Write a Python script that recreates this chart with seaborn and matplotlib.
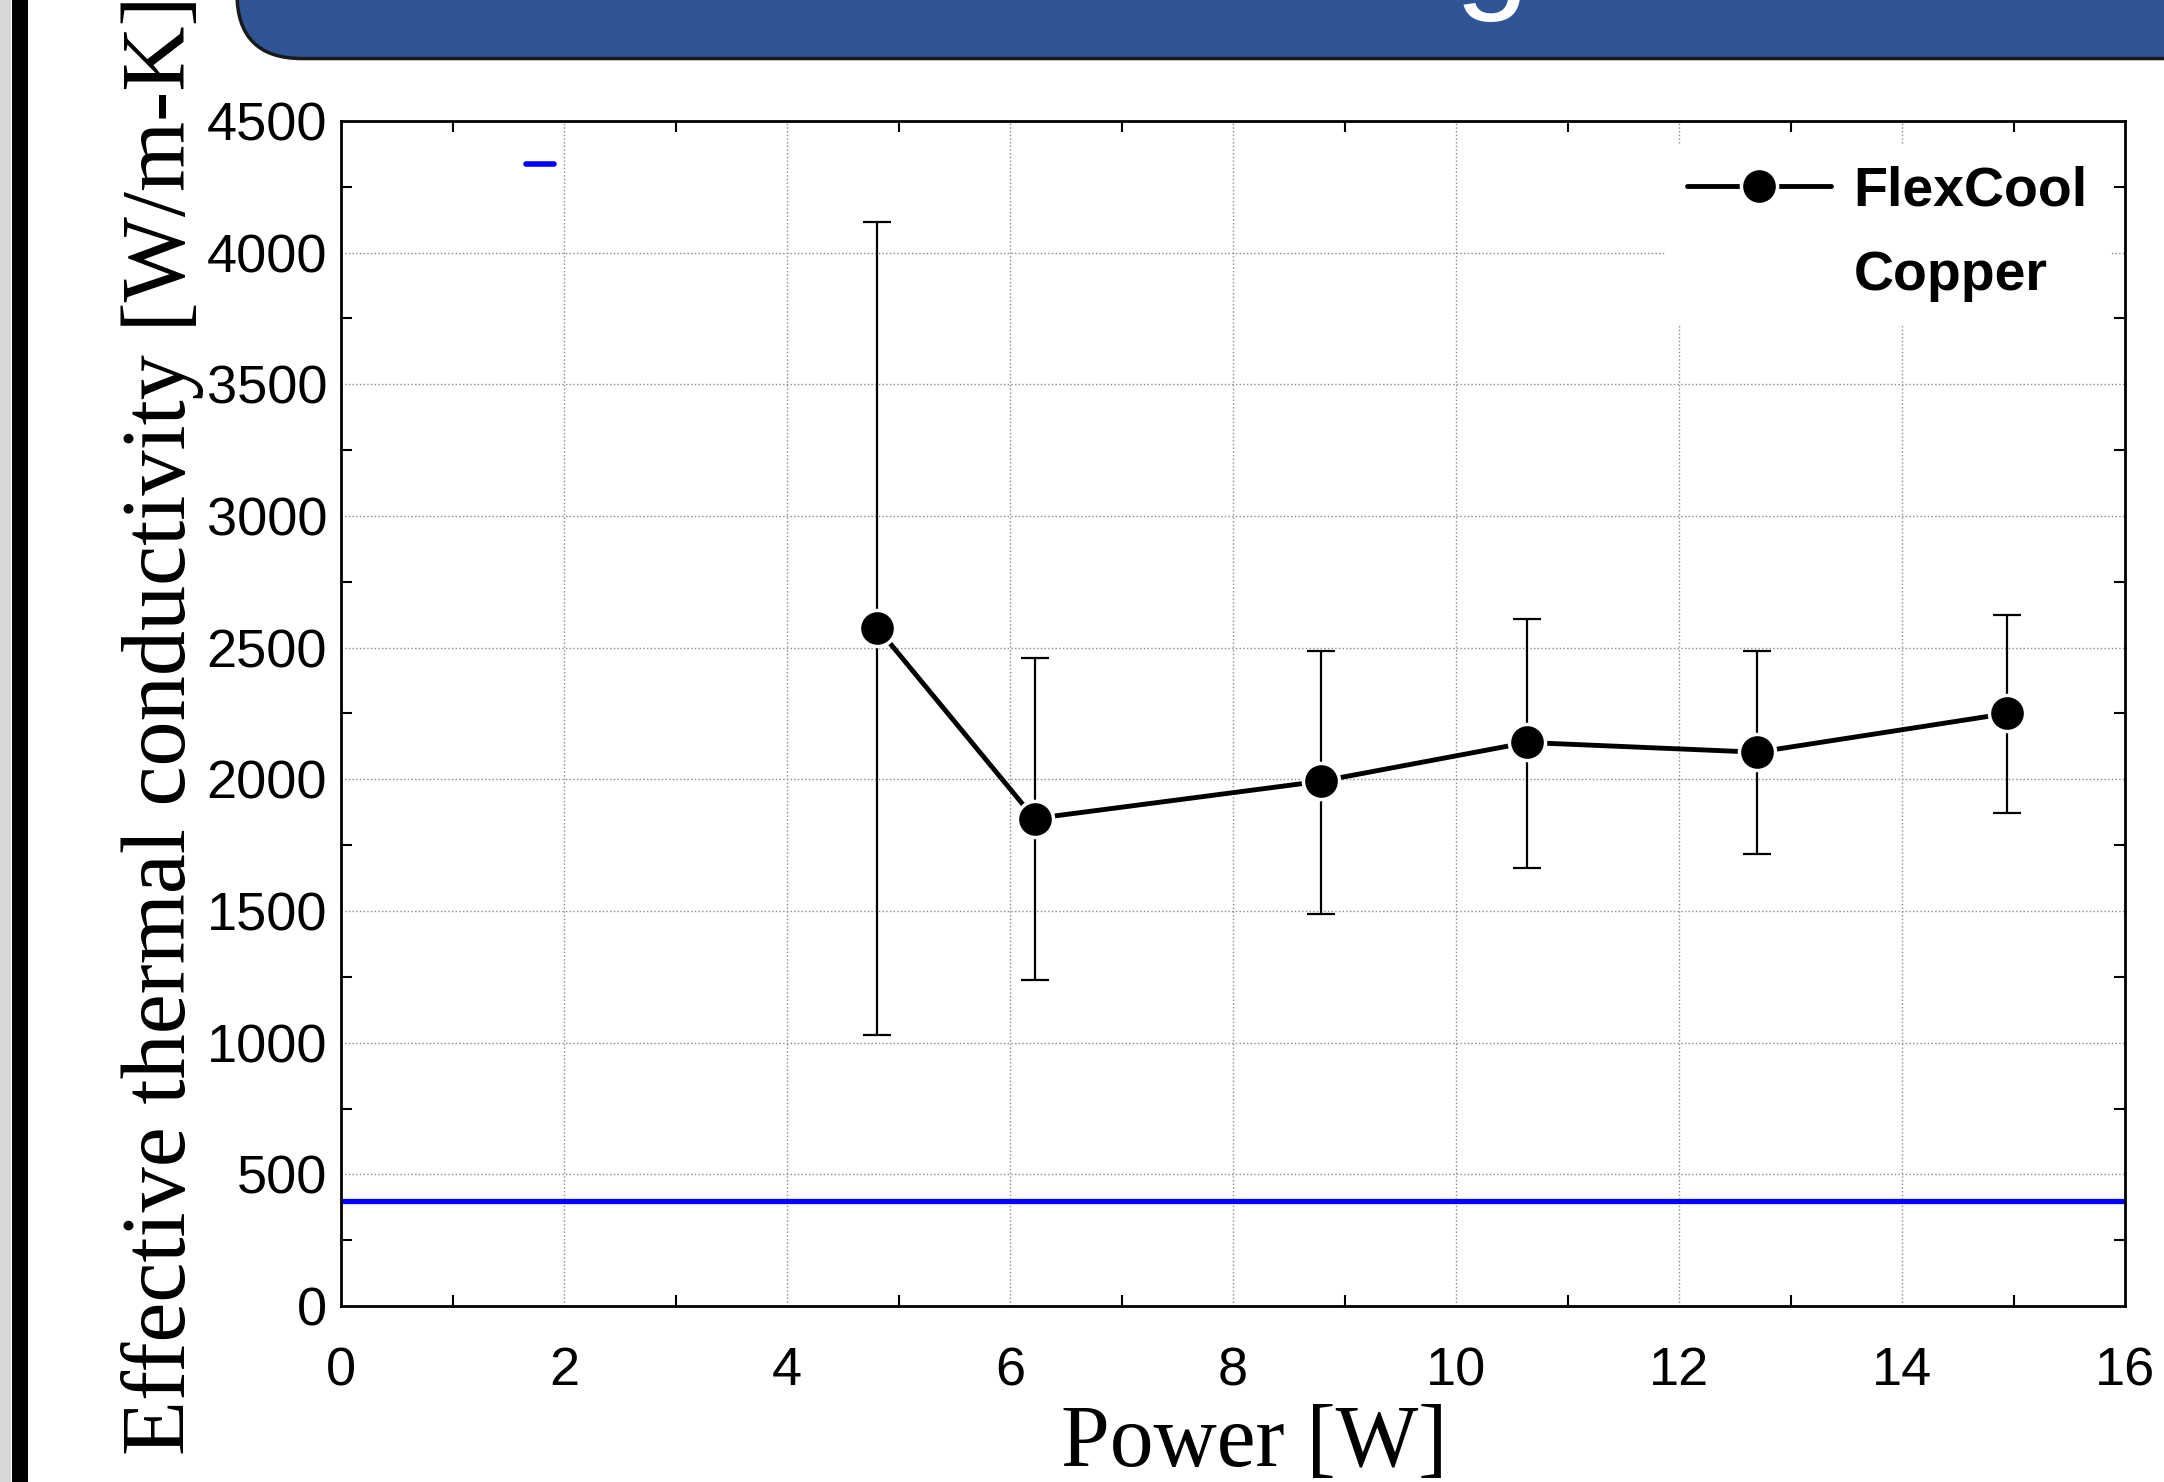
import numpy as np
import pandas as pd
import matplotlib
matplotlib.use("Agg")
import matplotlib.pyplot as plt
from matplotlib.patches import FancyBboxPatch, Rectangle
from matplotlib.lines import Line2D
from matplotlib.ticker import MultipleLocator
import seaborn as sns

# data
power = [4.81, 6.22, 8.79, 10.64, 12.70, 14.94]
k_eff = [2575, 1851, 1993, 2140, 2103, 2250]
k_hi = [4117, 2460, 2486, 2607, 2486, 2623]
k_lo = [1028, 1238, 1490, 1663, 1715, 1872]
copper_k = 400
series_names = ["FlexCool", "Copper"]

df = pd.DataFrame({"Power": power, "k": k_eff})
err_low = np.array(k_eff) - np.array(k_lo)
err_high = np.array(k_hi) - np.array(k_eff)

sns.set_style("white")
plt.rcParams["font.family"] = ["Liberation Sans", "DejaVu Sans"]
plt.rcParams["text.color"] = "black"

fig = plt.figure(figsize=(21.64, 14.82), dpi=100)

# slide decorations: grey edge + black bar on the left, blue title banner
fig.patches.append(Rectangle((0, 0), 11 / 2164, 1, transform=fig.transFigure,
                             facecolor="#d8d8d8", edgecolor="none"))
fig.patches.append(Rectangle((12 / 2164, 0), 16 / 2164, 1, transform=fig.transFigure,
                             facecolor="black", edgecolor="none"))
fig.patches.append(FancyBboxPatch((237 / 2164, 0.9605), 1.2, 0.2,
                                  boxstyle="round,pad=0,rounding_size=0.03",
                                  transform=fig.transFigure, facecolor="#2f5597",
                                  edgecolor="#1a1a1a", linewidth=2.5, mutation_aspect=1.46))
# bottom of the (cut off) slide title
fig.text(0.672, 1.004, "g", color="white", fontsize=96, va="baseline", ha="left")

ax = fig.add_axes([341 / 2164, 1 - 1306 / 1482, (2125 - 341) / 2164, (1306 - 121) / 1482])

# copper reference line
ax.axhline(copper_k, color="#0000ff", linewidth=3.8, zorder=2)

# FlexCool error bars and line
ax.errorbar(power, k_eff, yerr=[err_low, err_high], fmt="none", ecolor="black",
            elinewidth=1.6, capsize=10, capthick=1.6, zorder=3)
sns.lineplot(data=df, x="Power", y="k", ax=ax, color="black", linewidth=3.5,
             marker="o", markersize=26, markeredgecolor="white", markeredgewidth=2.5,
             zorder=4, legend=False)

ax.set_xlim(0, 16)
ax.set_ylim(0, 4500)
ax.xaxis.set_major_locator(MultipleLocator(2))
ax.xaxis.set_minor_locator(MultipleLocator(1))
ax.yaxis.set_major_locator(MultipleLocator(500))
ax.yaxis.set_minor_locator(MultipleLocator(250))

ax.grid(True, which="major", linestyle=":", color="#8a8a8a", linewidth=1.0)
ax.set_axisbelow(True)
for s in ax.spines.values():
    s.set_visible(True)
    s.set_color("black")
    s.set_linewidth(2.0)

ax.tick_params(which="major", length=0, labelsize=39, colors="black", labelcolor="black")
ax.tick_params(axis="x", which="major", pad=29)
ax.tick_params(axis="y", which="major", pad=10)
ax.tick_params(which="minor", direction="in", length=8, width=1.5, colors="black",
               top=True, right=True, bottom=True, left=True)

ax.set_xlabel("Power [W]", fontsize=63, color="black",
              family=["Liberation Serif", "DejaVu Serif"])
ax.set_ylabel("Effective thermal conductivity [W/m-K]", fontsize=65, color="black",
              family=["Liberation Serif", "DejaVu Serif"])
ax.xaxis.set_label_coords(0.512, -0.083)
ax.yaxis.set_label_coords(-0.077, 0.490)

# legend - copper key is blank in the original, its blue dash sits off on its own
flex_handle = Line2D([], [], color="black", linewidth=3.5, marker="o", markersize=26,
                     markeredgecolor="white", markeredgewidth=2.5)
blank_handle = Line2D([], [], color="white", linewidth=0)
leg = ax.legend([flex_handle, blank_handle], series_names, loc="upper right",
                bbox_to_anchor=(0.9916, 0.981), borderaxespad=0, borderpad=0.4,
                handlelength=2.6, handletextpad=0.4, labelspacing=0.58,
                frameon=True, fancybox=False, framealpha=1, labelcolor="black",
                prop={"weight": "bold", "size": 40})
leg.get_frame().set_edgecolor("none")
leg.get_frame().set_facecolor("white")
ax.add_artist(leg)

stray = ax.legend([Line2D([], [], color="#0000ff", linewidth=4)], [""], loc="center",
                  bbox_to_anchor=(0.1115, 0.959), borderaxespad=0, borderpad=0,
                  handlelength=0.5, handletextpad=0, frameon=False,
                  prop={"size": 40})

fig.savefig("out.png", dpi=100)
